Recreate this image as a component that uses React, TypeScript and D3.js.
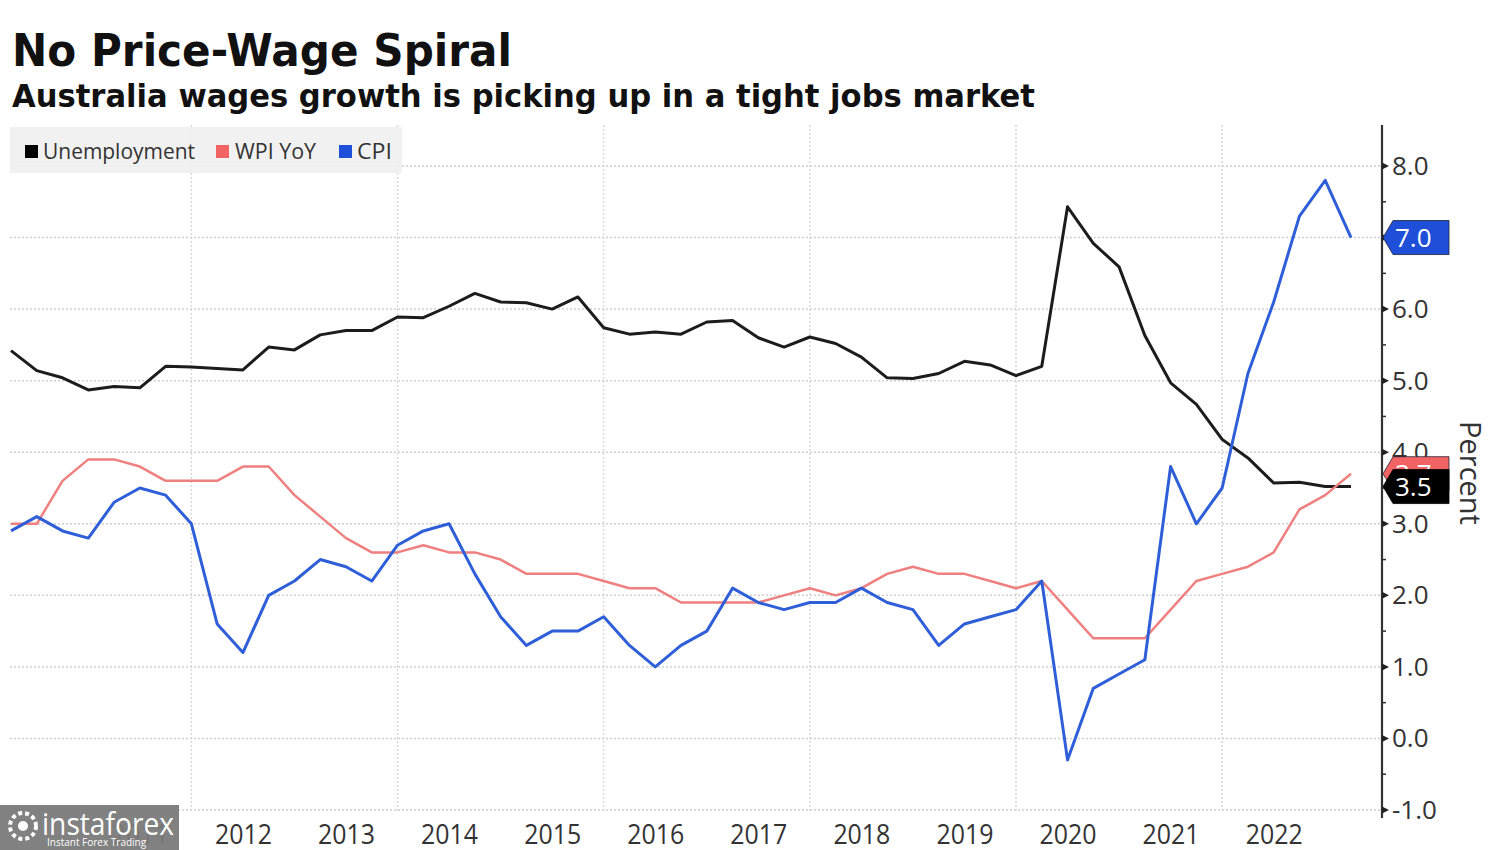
import React from "react";
import * as d3 from "d3";

const quarters = [
  "2010Q1","2010Q2","2010Q3","2010Q4","2011Q1","2011Q2","2011Q3","2011Q4",
  "2012Q1","2012Q2","2012Q3","2012Q4","2013Q1","2013Q2","2013Q3","2013Q4",
  "2014Q1","2014Q2","2014Q3","2014Q4","2015Q1","2015Q2","2015Q3","2015Q4",
  "2016Q1","2016Q2","2016Q3","2016Q4","2017Q1","2017Q2","2017Q3","2017Q4",
  "2018Q1","2018Q2","2018Q3","2018Q4","2019Q1","2019Q2","2019Q3","2019Q4",
  "2020Q1","2020Q2","2020Q3","2020Q4","2021Q1","2021Q2","2021Q3","2021Q4",
  "2022Q1","2022Q2","2022Q3","2022Q4","2023Q1",
];

const unemployment = [
  5.42, 5.14, 5.04, 4.87, 4.92, 4.9, 5.2, 5.19,
  5.17, 5.15, 5.47, 5.43, 5.64, 5.7, 5.7, 5.89,
  5.88, 6.04, 6.22, 6.1, 6.09, 6.0, 6.17, 5.74,
  5.65, 5.68, 5.65, 5.82, 5.84, 5.6, 5.47, 5.61,
  5.52, 5.33, 5.04, 5.03, 5.1, 5.27, 5.22, 5.07,
  5.2, 7.43, 6.92, 6.59, 5.63, 4.97, 4.67, 4.18,
  3.92, 3.57, 3.58, 3.52, 3.52,
];

const wpiYoY = [
  3.0, 3.0, 3.6, 3.9, 3.9, 3.8, 3.6, 3.6,
  3.6, 3.8, 3.8, 3.4, 3.1, 2.8, 2.6, 2.6,
  2.7, 2.6, 2.6, 2.5, 2.3, 2.3, 2.3, 2.2,
  2.1, 2.1, 1.9, 1.9, 1.9, 1.9, 2.0, 2.1,
  2.0, 2.1, 2.3, 2.4, 2.3, 2.3, 2.2, 2.1,
  2.2, 1.8, 1.4, 1.4, 1.4, 1.8, 2.2, 2.3,
  2.4, 2.6, 3.2, 3.4, 3.7,
];

const cpi = [
  2.9, 3.1, 2.9, 2.8, 3.3, 3.5, 3.4, 3.0,
  1.6, 1.2, 2.0, 2.2, 2.5, 2.4, 2.2, 2.7,
  2.9, 3.0, 2.3, 1.7, 1.3, 1.5, 1.5, 1.7,
  1.3, 1.0, 1.3, 1.5, 2.1, 1.9, 1.8, 1.9,
  1.9, 2.1, 1.9, 1.8, 1.3, 1.6, 1.7, 1.8,
  2.2, -0.3, 0.7, 0.9, 1.1, 3.8, 3.0, 3.5,
  5.1, 6.1, 7.3, 7.8, 7.0,
];

const yTicks = [-1, 0, 1, 2, 3, 4, 5, 6, 7, 8];
const yearLabels = [2011, 2012, 2013, 2014, 2015, 2016, 2017, 2018, 2019, 2020, 2021, 2022];
const gridYears = [2012, 2014, 2016, 2018, 2020, 2022];

const series = [
  { name: "Unemployment", values: unemployment, color: "#1c1c1c", label: "3.5", labelFill: "#000000", width: 3 },
  { name: "WPI YoY", values: wpiYoY, color: "#f07f7f", label: "3.7", labelFill: "#f26464", width: 2.5 },
  { name: "CPI", values: cpi, color: "#2f5fd8", label: "7.0", labelFill: "#1f4fd8", width: 3 },
];

const title = "No Price-Wage Spiral";
const subtitle = "Australia wages growth is picking up in a tight jobs market";

function quarterEnd(q: string): number {
  const yr = +q.slice(0, 4);
  const qq = +q.slice(5);
  return yr + qq / 4;
}

export default function App() {
  const W = 1500, H = 850;
  const x = d3.scaleLinear().domain([2010.25, 2023.25]).range([11, 1351]);
  const y = d3.scaleLinear().domain([-1, 8]).range([810, 166]);
  const axisX = 1382;
  const plotLeft = 10;
  const times = quarters.map(quarterEnd);

  const line = d3
    .line<number>()
    .x((_, i) => x(times[i]))
    .y((v) => y(v));

  const minorTicks = d3.range(-0.5, 8.5, 1);

  const labelOrder = [series[1], series[0], series[2]];

  return (
    <svg
      width={W}
      height={H}
      style={{ position: "absolute", left: 0, top: 0, background: "#fff" }}
      fontFamily="'Open Sans', sans-serif"
    >
      <rect x={0} y={0} width={W} height={H} fill="#fff" />
      <text x={12} y={66} fontFamily="'DejaVu Sans', sans-serif" fontWeight="bold" fontSize={44}
        fill="#111" textLength={500} lengthAdjust="spacingAndGlyphs">{title}</text>
      <text x={12} y={107} fontFamily="'DejaVu Sans', sans-serif" fontWeight="bold" fontSize={32}
        fill="#111" textLength={1023} lengthAdjust="spacingAndGlyphs">{subtitle}</text>

      {yTicks.map((t) => (
        <line key={"hg" + t} x1={plotLeft} x2={axisX} y1={y(t)} y2={y(t)}
          stroke="#d0d0d0" strokeWidth={1.5} strokeDasharray="2,2" />
      ))}
      {gridYears.map((g) => (
        <line key={"vg" + g} x1={x(g)} x2={x(g)} y1={125} y2={812}
          stroke="#d8d8d8" strokeWidth={1.5} strokeDasharray="2,2" />
      ))}

      <rect x={10} y={127} width={392} height={46} fill="#f0f0f0" opacity={0.92} />
      {[
        { s: series[0], x0: 25, tx: 43, tl: 152 },
        { s: series[1], x0: 216, tx: 235, tl: 81 },
        { s: series[2], x0: 339, tx: 357, tl: 35 },
      ].map(({ s, x0, tx, tl }) => (
        <g key={"lg" + s.name}>
          <rect x={x0} y={145} width={13} height={13} fill={s.labelFill} />
          <text x={tx} y={159} fontSize={22} fill="#333" textLength={tl} lengthAdjust="spacingAndGlyphs">{s.name}</text>
        </g>
      ))}

      {series.map((s) => (
        <path key={s.name} d={line(s.values) || ""} fill="none" stroke={s.color}
          strokeWidth={s.width} strokeLinejoin="round" />
      ))}

      <line x1={axisX} x2={axisX} y1={125} y2={818} stroke="#333" strokeWidth={2.2} />
      {minorTicks.map((t) => (
        <line key={"mt" + t} x1={axisX - 1} x2={axisX + 4} y1={y(t)} y2={y(t)} stroke="#333" strokeWidth={1.5} />
      ))}
      {yTicks.map((t) => (
        <g key={"yt" + t}>
          <path d={`M${axisX},${y(t) - 3.5} L${axisX + 7},${y(t)} L${axisX},${y(t) + 3.5} Z`} fill="#222" />
          <text x={axisX + 10} y={y(t) + 9} fontSize={26} fill="#333">{t.toFixed(1)}</text>
        </g>
      ))}

      {labelOrder.map((s) => {
        const v = s.values[s.values.length - 1];
        const cy = y(v);
        const h = 34, x0 = axisX + 1, x1 = 1449;
        return (
          <g key={"lab" + s.name}>
            <path d={`M${x0},${cy} L${x0 + 10},${cy - h / 2} L${x1},${cy - h / 2} L${x1},${cy + h / 2} L${x0 + 10},${cy + h / 2} Z`}
              fill={s.labelFill} stroke={s.labelFill === "#000000" ? "#000" : "#223"} strokeWidth={0.8} />
            <text x={x0 + 12} y={cy + 9} fontSize={26} fill="#fff">{s.label}</text>
          </g>
        );
      })}

      <text transform={`translate(1460,473) rotate(90)`} textAnchor="middle" fontSize={29} fill="#333">Percent</text>

      {yearLabels.map((yr) => (
        <text key={"yl" + yr} x={x(yr + 0.5) - 28} y={844}
          fontSize={28} fill="#333" textLength={57} lengthAdjust="spacingAndGlyphs">{yr}</text>
      ))}

      <rect x={0} y={805} width={179} height={45} fill="#7a7a7a" opacity={0.95} />
      <g fill="#fff">
        <circle cx={23} cy={826} r={13} fill="none" stroke="#fff" strokeWidth={4} strokeDasharray="4,3" />
        <circle cx={23} cy={826} r={5} />
        <text x={42} y={835} fontSize={31} textLength={132} lengthAdjust="spacingAndGlyphs">instaforex</text>
        <text x={47} y={846} fontSize={10}>Instant Forex Trading</text>
      </g>
    </svg>
  );
}
